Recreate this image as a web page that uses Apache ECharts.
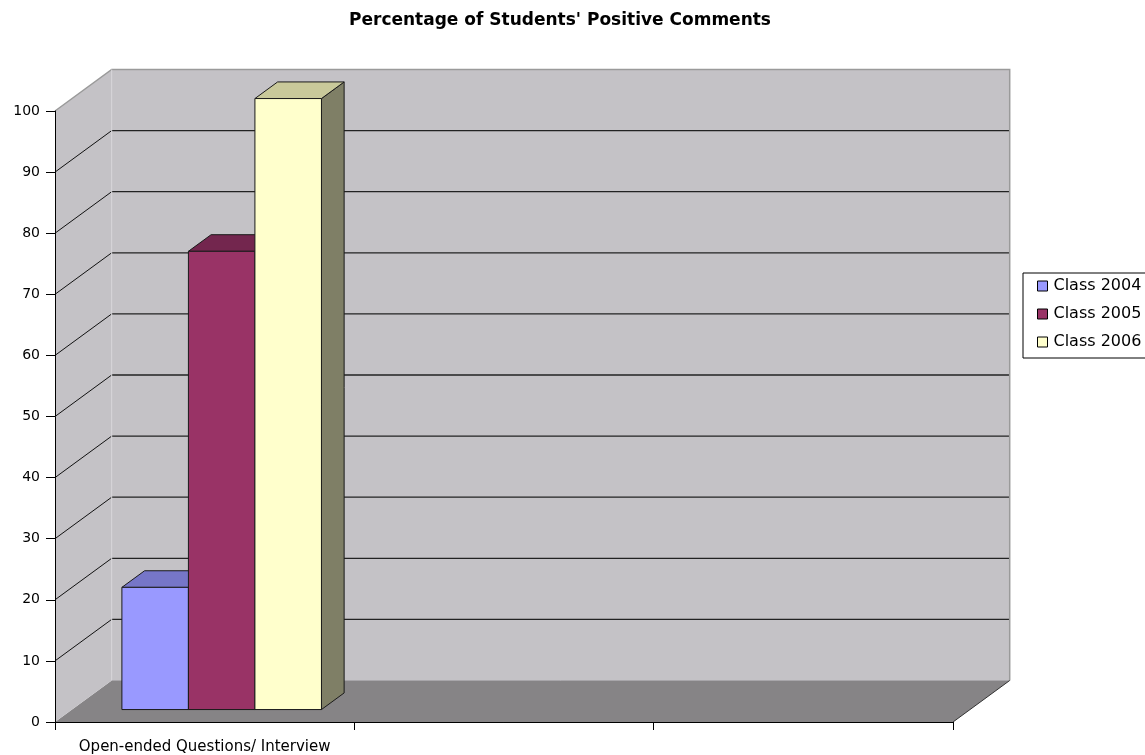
<!DOCTYPE html>
<html>
<head>
<meta charset="utf-8">
<script src="https://cdn.jsdelivr.net/npm/echarts@6/dist/echarts.min.js"></script>
<style>html,body{margin:0;padding:0;background:#fff}#c{width:1145px;height:755px}</style>
</head>
<body>
<div id="c"></div>
<script>
const categories = ['Open-ended Questions/ Interview', '', ''];
const seriesNames = ['Class 2004', 'Class 2005', 'Class 2006'];
const class2004 = [20, null, null];
const class2005 = [75, null, null];
const class2006 = [100, null, null];
const yTicks = [0, 10, 20, 30, 40, 50, 60, 70, 80, 90, 100];

const frontColors = ['#9999ff', '#993366', '#ffffcc'];
const topColors = ['#7676c8', '#73264e', '#c9c99a'];
const sideColors = ['#55558c', '#5c1f3e', '#7f7f66'];

// oblique depth of the whole plot box (pixels)
const DX = 56.7, DY = -41.5;
const FRONT = 0.3, DEPTH = 0.4;   // bar depth position (fraction of box depth)
const GAP = 1 / 3;

const chart = echarts.init(document.getElementById('c'));

function frameRender(params, api) {
  const cs = params.coordSys;
  const L = cs.x, R = cs.x + cs.width;
  const y0 = api.coord([0, 0])[1];
  const yTop = api.coord([0, yTicks[yTicks.length - 1]])[1];
  const ch = [];
  ch.push({type: 'polygon', shape: {points: [[L, y0], [L + DX, y0 + DY], [R + DX, y0 + DY], [R, y0]]},
    style: {fill: '#868486', stroke: null}});
  ch.push({type: 'polygon', shape: {points: [[L + DX, yTop + DY], [R + DX, yTop + DY], [R + DX, y0 + DY], [L + DX, y0 + DY]]},
    style: {fill: '#c4c2c6', stroke: null}});
  ch.push({type: 'polygon', shape: {points: [[L, yTop], [L + DX, yTop + DY], [L + DX, y0 + DY], [L, y0]]},
    style: {fill: '#c4c2c6', stroke: null}});
  yTicks.forEach(function (v) {
    if (v === 0 || v === yTicks[yTicks.length - 1]) return;
    const y = api.coord([0, v])[1];
    ch.push({type: 'line', shape: {x1: L, y1: y, x2: L + DX, y2: y + DY}, style: {stroke: '#111', lineWidth: 1}});
    ch.push({type: 'line', shape: {x1: L + DX, y1: y + DY, x2: R + DX, y2: y + DY}, style: {stroke: '#222', lineWidth: 1.3}});
  });
  ch.push({type: 'polyline', shape: {points: [[L, yTop], [L + DX, yTop + DY], [R + DX, yTop + DY], [R + DX, y0 + DY]]},
    style: {stroke: '#9a9a9a', lineWidth: 1.5, fill: null}});
  ch.push({type: 'line', shape: {x1: L + DX, y1: yTop + DY, x2: L + DX, y2: y0 + DY}, style: {stroke: '#d6d4d8', lineWidth: 1}});
  ch.push({type: 'line', shape: {x1: L + DX, y1: y0 + DY, x2: R + DX, y2: y0 + DY}, style: {stroke: '#a8a6aa', lineWidth: 1}});
  ch.push({type: 'line', shape: {x1: R, y1: y0, x2: R + DX, y2: y0 + DY}, style: {stroke: '#333', lineWidth: 1}});
  return {type: 'group', children: ch};
}

function barRender(k) {
  return function (params, api) {
    const cat = api.value(0), val = api.value(1);
    const band = api.size([1, 0])[0];
    const c = api.coord([cat, val]);
    const b = api.coord([cat, 0]);
    const groupW = band * (1 - GAP);
    const barW = groupW / seriesNames.length;
    const fx = FRONT * DX, fy = FRONT * DY;
    const bx = DEPTH * DX, by = DEPTH * DY;
    const x0 = c[0] - groupW / 2 + k * barW + fx;
    const x1 = x0 + barW;
    const yt = c[1] + fy, yb = b[1] + fy;
    const st = {stroke: '#1a1a1a', lineWidth: 1, lineJoin: 'miter'};
    return {type: 'group', children: [
      {type: 'polygon', shape: {points: [[x1, yt], [x1 + bx, yt + by], [x1 + bx, yb + by], [x1, yb]]},
        style: Object.assign({fill: sideColors[k]}, st)},
      {type: 'polygon', shape: {points: [[x0, yt], [x1, yt], [x1 + bx, yt + by], [x0 + bx, yt + by]]},
        style: Object.assign({fill: topColors[k]}, st)},
      {type: 'rect', shape: {x: x0, y: yt, width: barW, height: yb - yt},
        style: Object.assign({fill: frontColors[k]}, st)}
    ]};
  };
}

const valueSets = [class2004, class2005, class2006];
const barSeries = valueSets.map(function (vals, k) {
  const data = [];
  vals.forEach(function (v, j) { if (v !== null) data.push([j, v]); });
  return {
    type: 'custom', name: seriesNames[k], z: 5 + k,
    itemStyle: {color: frontColors[k]},
    renderItem: barRender(k), data: data, clip: false
  };
});

chart.setOption({
  animation: false,
  backgroundColor: '#ffffff',
  title: {
    text: "Percentage of Students' Positive Comments",
    left: 560, top: 12, textAlign: 'center', padding: 0,
    textStyle: {fontFamily: 'DejaVu Sans', fontWeight: 'bold', fontSize: 17, color: '#000'}
  },
  legend: {
    orient: 'vertical', left: 1023, top: 273,
    padding: [5, 12, 8, 14], itemGap: 12,
    itemWidth: 10, itemHeight: 10, icon: 'rect',
    borderColor: '#000', borderWidth: 1, backgroundColor: '#fff',
    itemStyle: {borderColor: '#000', borderWidth: 1},
    textStyle: {fontFamily: 'DejaVu Sans', fontSize: 16, color: '#000', padding: [0, 0, 0, 1]},
    data: seriesNames.map(function (n, k) { return {name: n, itemStyle: {color: frontColors[k]}}; })
  },
  grid: {left: 55, right: 192, top: 111, bottom: 33},
  xAxis: {
    type: 'category', data: categories, boundaryGap: true, z: 10,
    axisLine: {show: true, lineStyle: {color: '#000', width: 1}},
    axisTick: {show: true, alignWithLabel: false, interval: 0, length: 8, lineStyle: {color: '#000'}},
    axisLabel: {interval: 0, margin: 18, color: '#000', fontFamily: 'DejaVu Sans', fontSize: 15},
    splitLine: {show: false}
  },
  yAxis: {
    type: 'value', min: 0, max: 100, interval: 10, z: 10,
    axisLine: {show: true, lineStyle: {color: '#000', width: 1}},
    axisTick: {show: true, length: 9, lineStyle: {color: '#000'}},
    axisLabel: {margin: 15, color: '#000', fontFamily: 'DejaVu Sans', fontSize: 14},
    splitLine: {show: false}
  },
  series: [{
    type: 'custom', name: 'frame', z: 1, silent: true, clip: false,
    renderItem: frameRender, data: [[0, 0]]
  }].concat(barSeries)
});
</script>
</body>
</html>
